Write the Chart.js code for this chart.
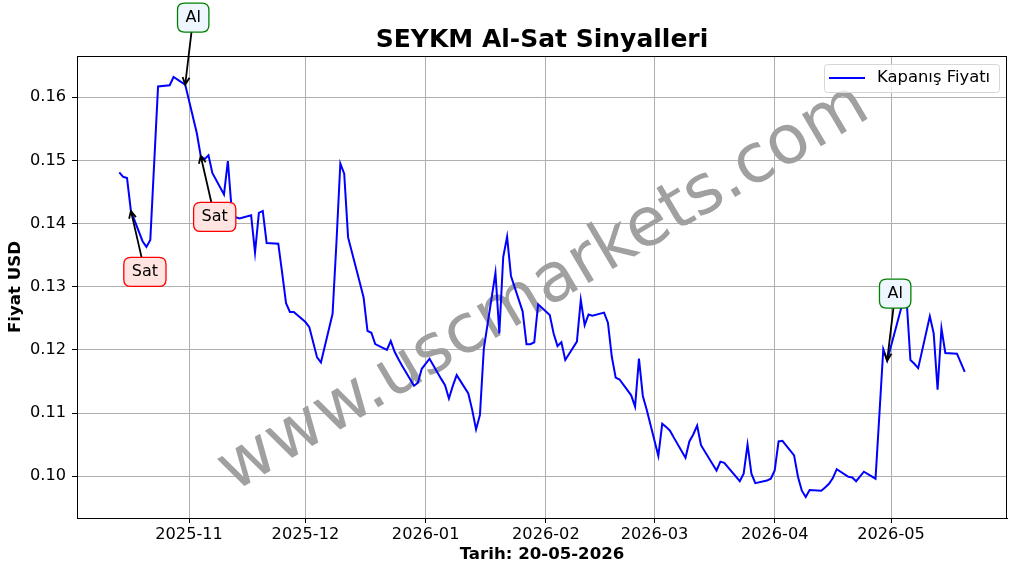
<!DOCTYPE html>
<html>
<head>
<meta charset="utf-8">
<script src="https://cdn.jsdelivr.net/npm/chart.js@4.4.1/dist/chart.umd.min.js"></script>
<style>
  html, body { margin: 0; padding: 0; background: #fff; }
</style>
</head>
<body>
<canvas id="chart" width="1017" height="573"></canvas>
<script>
// closing prices
const closeDates = [
  '2025-10-14', '2025-10-15', '2025-10-16', '2025-10-17', '2025-10-20', '2025-10-21', '2025-10-22', '2025-10-24',
  '2025-10-27', '2025-10-28', '2025-10-30', '2025-10-31',
  '2025-11-03', '2025-11-04', '2025-11-05', '2025-11-06', '2025-11-07', '2025-11-10', '2025-11-11', '2025-11-12',
  '2025-11-13', '2025-11-14', '2025-11-17', '2025-11-18', '2025-11-19', '2025-11-20', '2025-11-21', '2025-11-24',
  '2025-11-25', '2025-11-26', '2025-11-27', '2025-11-28',
  '2025-12-01', '2025-12-02', '2025-12-03', '2025-12-04', '2025-12-05', '2025-12-08', '2025-12-09', '2025-12-10',
  '2025-12-11', '2025-12-12', '2025-12-15', '2025-12-16', '2025-12-17', '2025-12-18', '2025-12-19', '2025-12-22',
  '2025-12-23', '2025-12-24', '2025-12-25', '2025-12-26', '2025-12-29', '2025-12-30', '2025-12-31',
  '2026-01-02', '2026-01-05', '2026-01-06', '2026-01-07', '2026-01-08', '2026-01-09', '2026-01-12', '2026-01-13',
  '2026-01-14', '2026-01-15', '2026-01-16', '2026-01-19', '2026-01-20', '2026-01-21', '2026-01-22', '2026-01-23',
  '2026-01-26', '2026-01-27', '2026-01-28', '2026-01-29', '2026-01-30',
  '2026-02-02', '2026-02-03', '2026-02-04', '2026-02-05', '2026-02-06', '2026-02-09', '2026-02-10', '2026-02-11',
  '2026-02-12', '2026-02-13', '2026-02-16', '2026-02-17', '2026-02-18', '2026-02-19', '2026-02-20', '2026-02-23',
  '2026-02-24', '2026-02-25', '2026-02-26', '2026-02-27',
  '2026-03-02', '2026-03-03', '2026-03-04', '2026-03-05', '2026-03-06', '2026-03-09', '2026-03-10', '2026-03-11',
  '2026-03-12', '2026-03-13', '2026-03-16', '2026-03-17', '2026-03-18', '2026-03-19', '2026-03-23', '2026-03-24',
  '2026-03-25', '2026-03-26', '2026-03-27', '2026-03-30', '2026-03-31',
  '2026-04-01', '2026-04-02', '2026-04-03', '2026-04-06', '2026-04-07', '2026-04-08', '2026-04-09', '2026-04-10',
  '2026-04-13', '2026-04-14', '2026-04-15', '2026-04-16', '2026-04-17', '2026-04-20', '2026-04-21', '2026-04-22',
  '2026-04-24', '2026-04-27', '2026-04-28', '2026-04-29', '2026-04-30',
  '2026-05-04', '2026-05-05', '2026-05-06', '2026-05-07', '2026-05-08', '2026-05-11', '2026-05-12', '2026-05-13',
  '2026-05-14', '2026-05-15', '2026-05-18', '2026-05-20'
];
const closePrices = [
  0.1481, 0.1474, 0.1472, 0.1420, 0.1372, 0.1363, 0.1374, 0.1617,
  0.1619, 0.1632, 0.1624, 0.1620,
  0.1543, 0.1507, 0.1502, 0.1508, 0.1480, 0.1446, 0.1499, 0.1420,
  0.1410, 0.1408, 0.1413, 0.1354, 0.1417, 0.1420, 0.1369, 0.1368,
  0.1322, 0.1274, 0.1260, 0.1260,
  0.1244, 0.1236, 0.1212, 0.1188, 0.1180, 0.1257, 0.1370, 0.1495,
  0.1479, 0.1378, 0.1307, 0.1283, 0.1230, 0.1227, 0.1209, 0.1200,
  0.1214, 0.1197, 0.1185, 0.1174, 0.1143, 0.1148, 0.1170,
  0.1186, 0.1154, 0.1144, 0.1123, 0.1143, 0.1160, 0.1131, 0.1105,
  0.1074, 0.1097, 0.1202, 0.1322, 0.1226, 0.1347, 0.1379, 0.1317,
  0.1261, 0.1209, 0.1209, 0.1212, 0.1272,
  0.1255, 0.1226, 0.1206, 0.1212, 0.1184, 0.1213, 0.1279, 0.1239,
  0.1256, 0.1254, 0.1259, 0.1243, 0.1189, 0.1156, 0.1153, 0.1128,
  0.1110, 0.1186, 0.1127, 0.1105,
  0.1032, 0.1083, 0.1078, 0.1072, 0.1061, 0.1029, 0.1055, 0.1066,
  0.1080, 0.1049, 0.1019, 0.1009, 0.1023, 0.1021, 0.0992, 0.1004,
  0.1050, 0.1004, 0.0989, 0.0993, 0.0996,
  0.1009, 0.1055, 0.1056, 0.1033, 0.0999, 0.0977, 0.0967, 0.0978,
  0.0977, 0.0982, 0.0988, 0.0997, 0.1011, 0.0999, 0.0998, 0.0992,
  0.1007, 0.0996, 0.1098, 0.1201, 0.1183,
  0.1275, 0.1280, 0.1184, 0.1178, 0.1171, 0.1253, 0.1226, 0.1137,
  0.1234, 0.1195, 0.1194, 0.1165
];

// buy / sell signals
const signalDates = ['2025-10-17', '2025-10-31', '2025-11-04', '2026-04-30'];
const signalTypes = ['Sat', 'Al', 'Sat', 'Al'];

// x tick labels (month starts) and y ticks
const monthTicks = ['2025-11', '2025-12', '2026-01', '2026-02', '2026-03', '2026-04', '2026-05'];
const priceTicks = [0.10, 0.11, 0.12, 0.13, 0.14, 0.15, 0.16];

const chartTitle = 'SEYKM Al-Sat Sinyalleri';
const seriesName = 'Kapanış Fiyatı';
const xTitle = 'Tarih: 20-05-2026';
const yTitle = 'Fiyat USD';
const watermark = 'www.uscmarkets.com';

const DAY = 86400000;
const toDay = s => Date.parse(s + 'T00:00:00Z') / DAY;
const FONT = '"DejaVu Sans", "Liberation Sans", sans-serif';

const points = closeDates.map((d, i) => ({ x: toDay(d), y: closePrices[i] }));

// matplotlib style 5% margins
const xFirst = points[0].x, xLast = points[points.length - 1].x;
const xPad = (xLast - xFirst) * 0.05;
const yLo = Math.min(...closePrices), yHi = Math.max(...closePrices);
const yPad = (yHi - yLo) * 0.05;

Chart.defaults.font.family = FONT;
Chart.defaults.color = '#000';

function roundRect(ctx, x, y, w, h, r) {
  ctx.beginPath();
  ctx.moveTo(x + r, y);
  ctx.lineTo(x + w - r, y);
  ctx.quadraticCurveTo(x + w, y, x + w, y + r);
  ctx.lineTo(x + w, y + h - r);
  ctx.quadraticCurveTo(x + w, y + h, x + w - r, y + h);
  ctx.lineTo(x + r, y + h);
  ctx.quadraticCurveTo(x, y + h, x, y + h - r);
  ctx.lineTo(x, y + r);
  ctx.quadraticCurveTo(x, y, x + r, y);
  ctx.closePath();
}

const decor = {
  id: 'decor',
  beforeDatasetsDraw(chart) {
    const { ctx, chartArea: a } = chart;
    ctx.save();
    ctx.translate((a.left + a.right) / 2 + 2, (a.top + a.bottom) / 2 + 2);
    ctx.rotate(-30.5 * Math.PI / 180);
    ctx.font = '68px ' + FONT;
    ctx.fillStyle = '#a0a0a0';
    ctx.textAlign = 'center';
    ctx.textBaseline = 'middle';
    ctx.fillText(watermark, 0, 0);
    ctx.restore();
  },
  afterDraw(chart) {
    const { ctx, chartArea: a, scales } = chart;
    ctx.save();

    // frame
    ctx.strokeStyle = '#000';
    ctx.lineWidth = 1;
    ctx.strokeRect(a.left + 0.5, a.top + 0.5, a.width - 1, a.height);

    // titles
    ctx.fillStyle = '#000';
    ctx.textAlign = 'center';
    ctx.textBaseline = 'middle';
    ctx.font = 'bold 25px ' + FONT;
    ctx.fillText(chartTitle, (a.left + a.right) / 2, 40);
    ctx.font = 'bold 16.6px ' + FONT;
    ctx.fillText(xTitle, (a.left + a.right) / 2, 555);
    ctx.save();
    ctx.translate(16, (a.top + a.bottom) / 2);
    ctx.rotate(-Math.PI / 2);
    ctx.fillText(yTitle, 0, 0);
    ctx.restore();

    // legend
    const lx = a.right - 183, ly = a.top + 8;
    roundRect(ctx, lx + 0.5, ly + 0.5, 175, 28, 3);
    ctx.fillStyle = 'rgba(255,255,255,0.8)';
    ctx.fill();
    ctx.strokeStyle = '#d6d6d6';
    ctx.lineWidth = 1;
    ctx.stroke();
    ctx.strokeStyle = '#0000ff';
    ctx.lineWidth = 2;
    ctx.beginPath();
    ctx.moveTo(lx + 5, ly + 14);
    ctx.lineTo(lx + 41, ly + 14);
    ctx.stroke();
    ctx.fillStyle = '#000';
    ctx.textAlign = 'left';
    ctx.font = '16.4px ' + FONT;
    ctx.fillText(seriesName, lx + 53, ly + 14);

    // signal annotations
    signalDates.forEach((d, i) => {
      const idx = closeDates.indexOf(d);
      const px = scales.x.getPixelForValue(toDay(d));
      const py = scales.y.getPixelForValue(closePrices[idx]);
      const isBuy = signalTypes[i] === 'Al';
      const cx = px + (isBuy ? 8 : 14);
      const cy = py + (isBuy ? -67 : 61);
      ctx.font = '16px ' + FONT;
      const w = ctx.measureText(signalTypes[i]).width + 16;
      const h = 29;

      // arrow from box edge to point
      const dx = px - cx, dy = py - cy;
      const t = Math.min((w / 2) / Math.abs(dx || 1e-6), (h / 2) / Math.abs(dy || 1e-6));
      const sx = cx + dx * t, sy = cy + dy * t;
      const ang = Math.atan2(py - sy, px - sx);
      ctx.strokeStyle = '#000';
      ctx.lineWidth = 1.8;
      ctx.beginPath();
      ctx.moveTo(sx, sy);
      ctx.lineTo(px, py);
      ctx.moveTo(px - 8 * Math.cos(ang - 0.45), py - 8 * Math.sin(ang - 0.45));
      ctx.lineTo(px, py);
      ctx.lineTo(px - 8 * Math.cos(ang + 0.45), py - 8 * Math.sin(ang + 0.45));
      ctx.stroke();

      roundRect(ctx, cx - w / 2, cy - h / 2, w, h, 7);
      ctx.fillStyle = isBuy ? '#eef6ff' : '#ffe4e1';
      ctx.fill();
      ctx.strokeStyle = isBuy ? '#008000' : '#ff0000';
      ctx.lineWidth = 1.3;
      ctx.stroke();
      ctx.fillStyle = '#000';
      ctx.textAlign = 'center';
      ctx.fillText(signalTypes[i], cx, cy);
    });

    ctx.restore();
  }
};

new Chart(document.getElementById('chart'), {
  type: 'line',
  data: {
    datasets: [{
      label: seriesName,
      data: points,
      borderColor: '#0000ff',
      borderWidth: 2,
      pointRadius: 0,
      fill: false,
      tension: 0
    }]
  },
  options: {
    responsive: false,
    animation: false,
    layout: { padding: { left: 0, right: 10, top: 56, bottom: 0 } },
    plugins: {
      legend: { display: false },
      title: { display: false },
      tooltip: { enabled: false }
    },
    scales: {
      x: {
        type: 'linear',
        min: xFirst - xPad,
        max: xLast + xPad,
        afterBuildTicks: s => { s.ticks = monthTicks.map(m => ({ value: toDay(m + '-01') })); },
        afterFit: s => { s.height = 55; },
        ticks: {
          font: { size: 16.2 },
          color: '#000',
          padding: 2,
          maxRotation: 0,
          autoSkip: false,
          callback: v => new Date(v * DAY).toISOString().slice(0, 7)
        },
        grid: { color: '#b0b0b0', lineWidth: 1, tickColor: '#000', tickLength: 5 },
        border: { color: '#000', width: 1 }
      },
      y: {
        min: yLo - yPad,
        max: yHi + yPad,
        afterBuildTicks: s => { s.ticks = priceTicks.map(v => ({ value: v })); },
        afterFit: s => { s.width = 77; },
        ticks: {
          font: { size: 16.2 },
          color: '#000',
          padding: 6,
          callback: v => v.toFixed(2)
        },
        grid: { color: '#b0b0b0', lineWidth: 1, tickColor: '#000', tickLength: 5 },
        border: { color: '#000', width: 1 }
      }
    }
  },
  plugins: [decor]
});
</script>
</body>
</html>
